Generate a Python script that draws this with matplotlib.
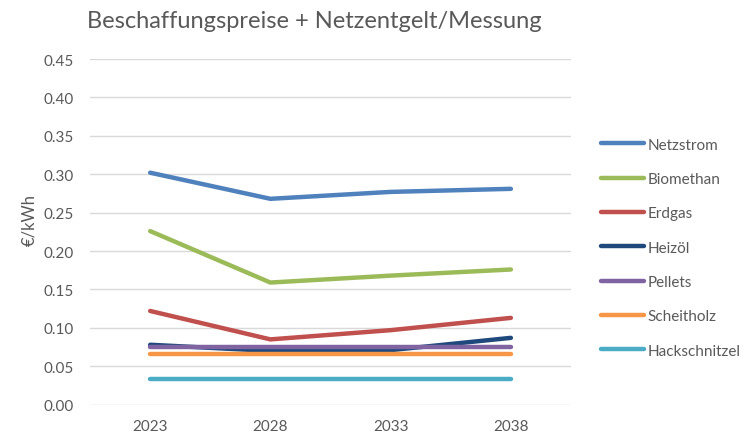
import numpy as np
import matplotlib.pyplot as plt

# Werte (€/kWh)
jahre = ["2023", "2028", "2033", "2038"]
netzstrom = [0.302, 0.268, 0.277, 0.281]
biomethan = [0.226, 0.159, 0.168, 0.176]
erdgas = [0.122, 0.085, 0.097, 0.113]
heizoel = [0.078, 0.070, 0.071, 0.087]
pellets = [0.075, 0.075, 0.075, 0.075]
scheitholz = [0.066, 0.066, 0.066, 0.066]
hackschnitzel = [0.033, 0.033, 0.033, 0.033]

reihen = [
    ("Netzstrom", netzstrom, "#4F81BD"),
    ("Biomethan", biomethan, "#9BBB59"),
    ("Erdgas", erdgas, "#C0504D"),
    ("Heizöl", heizoel, "#1F497D"),
    ("Pellets", pellets, "#8064A2"),
    ("Scheitholz", scheitholz, "#F79646"),
    ("Hackschnitzel", hackschnitzel, "#4BACC6"),
]

plt.rcParams["font.family"] = ["Lato", "DejaVu Sans"]
grau = "#595959"

fig = plt.figure(figsize=(7.54, 4.39), dpi=100)
ax = fig.add_axes([0.1194, 0.0759, 0.6379, 0.7874])

x = np.arange(len(jahre))
for name, werte, farbe in reihen:
    ax.plot(x, werte, color=farbe, lw=3.2, label=name, solid_capstyle="round")

ax.set_xlim(-0.5, 3.5)
ax.set_ylim(0, 0.45)
ax.set_yticks(np.arange(0, 0.451, 0.05))
ax.set_yticklabels([f"{v:.2f}" for v in np.arange(0, 0.451, 0.05)])
ax.set_xticks(x)
ax.set_xticklabels(jahre)
ax.tick_params(axis="both", length=0, labelsize=11, colors=grau)
ax.tick_params(axis="y", pad=12)
ax.tick_params(axis="x", pad=10)
ax.grid(axis="y", color="#D9D9D9", lw=1)
ax.set_axisbelow(True)
for s in ax.spines.values():
    s.set_visible(False)

ax.set_ylabel("€/kWh", color=grau, fontsize=12)
ax.yaxis.set_label_coords(-0.11, 0.537)
fig.text(0.115, 0.952, "Beschaffungspreise + Netzentgelt/Messung",
         fontsize=17, color=grau, va="center", ha="left")

fig.legend(loc="upper left", bbox_to_anchor=(0.789, 0.698), frameon=False,
           fontsize=11, labelcolor=grau, handlelength=2.8, handletextpad=0.25,
           labelspacing=1.33, borderaxespad=0)

fig.savefig("out.png", dpi=100)
